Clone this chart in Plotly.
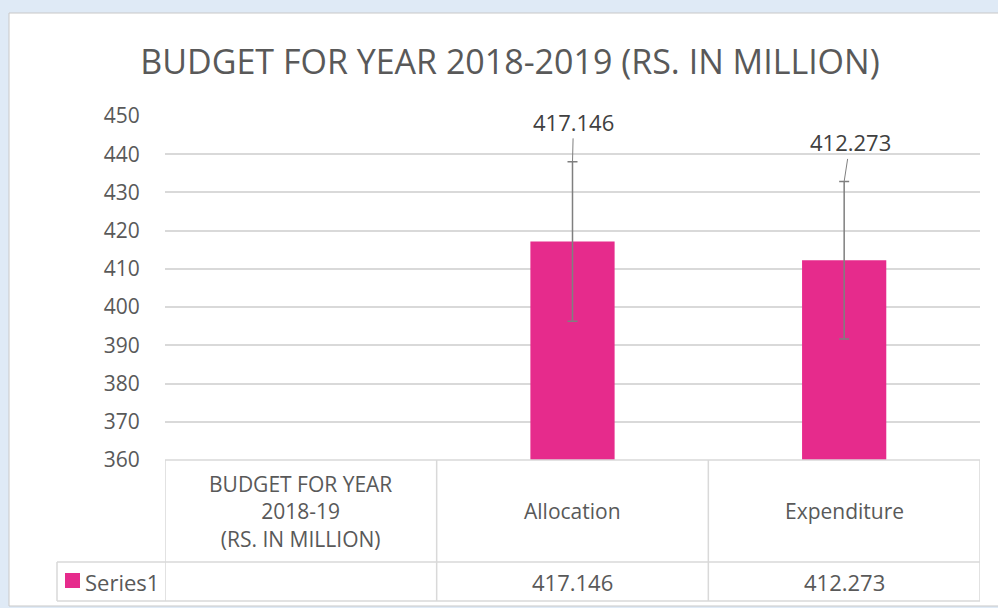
import plotly.graph_objects as go

# Chart data
categories = ["BUDGET FOR YEAR<br>2018-19<br>(RS. IN MILLION)", "Allocation", "Expenditure"]
values = [None, 417.146, 412.273]
series_name = "Series1"
title_text = "BUDGET FOR YEAR 2018-2019 (RS. IN MILLION)"
y_ticks = [360, 370, 380, 390, 400, 410, 420, 430, 440, 450]
error_percent = 5

BAR = "#e62b8c"
GRID = "#d9d9d9"
TXT = "#595959"
FONT = "Open Sans"

W, H = 998, 608
ML, MR, MT, MB = 165, 18, 116, 148
plot_h = H - MT - MB
plot_w = W - ML - MR


def py(pixel_y):
    """Convert a pixel row to paper y coordinate."""
    return (H - MB - pixel_y) / plot_h


def px(pixel_x):
    """Convert a pixel column to paper x coordinate."""
    return (pixel_x - ML) / plot_w


fig = go.Figure()
fig.add_trace(go.Bar(
    x=categories, y=values, name=series_name,
    marker=dict(color=BAR, line=dict(width=0)),
    width=0.31,
    error_y=dict(type="percent", value=error_percent, color="#7f7f7f",
                 thickness=1.5, width=5),
    showlegend=False,
))

# Data labels with leader lines to the top of the error bar
label_offsets = {1: (1, -40), 2: (6, -39)}
for i, v in enumerate(values):
    if v is None:
        continue
    ax, ay = label_offsets[i]
    fig.add_annotation(
        x=categories[i], y=v * (1 + error_percent / 100), xref="x", yref="y",
        text=f"{v:.3f}", showarrow=True, arrowhead=0, arrowwidth=1,
        arrowcolor="#7f7f7f", ax=ax, ay=ay, standoff=0,
        font=dict(family=FONT, size=22, color="#404040"),
    )

# Data table under the plot
y_top = 0
y_mid = py(562)
y_bot = py(601)
x_edges = [-0.5, 0.5, 1.5, 2.5]
line = dict(color=GRID, width=1.5)
fig.add_shape(type="line", xref="x", yref="paper", x0=-0.5, x1=2.5, y0=y_top, y1=y_top, line=line)
fig.add_shape(type="line", xref="paper", yref="paper", x0=px(57), x1=1, y0=y_mid, y1=y_mid, line=line)
fig.add_shape(type="line", xref="paper", yref="paper", x0=px(57), x1=1, y0=y_bot, y1=y_bot, line=line)
fig.add_shape(type="line", xref="paper", yref="paper", x0=px(57), x1=px(57), y0=y_mid, y1=y_bot, line=line)
for xe in x_edges:
    fig.add_shape(type="line", xref="x", yref="paper", x0=xe, x1=xe, y0=y_top, y1=y_bot, line=line)

for i, c in enumerate(categories):
    fig.add_annotation(x=c, y=(y_top + y_mid) / 2, xref="x", yref="paper",
                       yanchor="middle", xanchor="center",
                       text=c, showarrow=False, align="center",
                       font=dict(family=FONT, size=21, color=TXT))
    fig.add_annotation(x=c, y=(y_mid + y_bot) / 2, xref="x", yref="paper",
                       yanchor="middle", xanchor="center",
                       text="" if values[i] is None else f"{values[i]:.3f}",
                       showarrow=False, font=dict(family=FONT, size=22, color=TXT))

# Series key in the table's first column
fig.add_shape(type="rect", xref="paper", yref="paper",
              x0=px(65), x1=px(80), y0=py(588), y1=py(573),
              fillcolor=BAR, line=dict(width=0))
fig.add_annotation(x=px(83), y=(y_mid + y_bot) / 2, xref="paper", yref="paper",
                   xanchor="left", yanchor="middle", showarrow=False,
                   text=series_name,
                   font=dict(family=FONT, size=22, color=TXT))

# White chart panel on a light blue page
fig.add_shape(type="rect", xref="paper", yref="paper", layer="below",
              x0=px(9), x1=px(1010), y0=py(606), y1=py(13),
              fillcolor="white", line=dict(color="#c8c8c8", width=1))

fig.update_layout(
    width=W, height=H,
    margin=dict(l=ML, r=MR, t=MT, b=MB),
    paper_bgcolor="#dfeaf6", plot_bgcolor="rgba(0,0,0,0)",
    title=dict(text=title_text, x=510 / W, xanchor="center",
               y=1 - 62 / H, yanchor="middle", yref="container",
               font=dict(family=FONT, size=34, color=TXT)),
    xaxis=dict(showticklabels=False, showgrid=False, zeroline=False,
               showline=False, ticks="", range=[-0.5, 2.5]),
    yaxis=dict(range=[360, 450], tickvals=y_ticks, showgrid=True,
               gridcolor=GRID, gridwidth=1.5, zeroline=False, showline=False,
               ticks="outside", ticklen=20, tickcolor="rgba(0,0,0,0)",
               tickfont=dict(family=FONT, size=21, color=TXT)),
    font=dict(family=FONT),
)

fig.write_html("out.html")
